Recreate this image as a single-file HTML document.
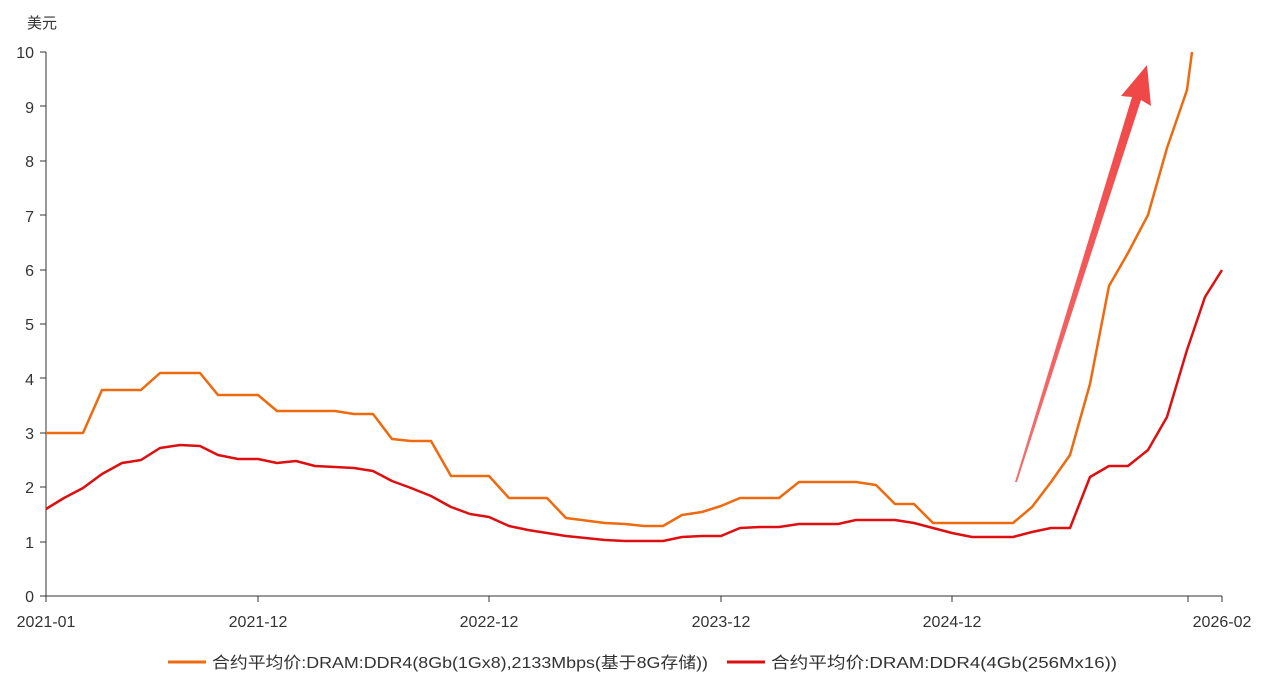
<!DOCTYPE html>
<html><head><meta charset="utf-8"><style>
body{margin:0;background:#fff;}
svg text{font-family:"Liberation Sans","Noto Sans CJK SC",sans-serif;}
</style></head><body>
<svg width="1269" height="676" viewBox="0 0 1269 676" xmlns="http://www.w3.org/2000/svg">
<defs><linearGradient id="g" x1="1015" y1="482" x2="1148" y2="65" gradientUnits="userSpaceOnUse">
<stop offset="0" stop-color="#f47070"/><stop offset="1" stop-color="#f04545"/></linearGradient></defs>
<text x="27" y="28" font-size="15" fill="#333">美元</text>
<g font-size="16" fill="#333" text-anchor="end">
<text x="34" y="58">10</text><text x="34" y="113">9</text><text x="34" y="167">8</text><text x="34" y="222">7</text><text x="34" y="276">6</text><text x="34" y="330">5</text><text x="34" y="385">4</text><text x="34" y="439">3</text><text x="34" y="493">2</text><text x="34" y="548">1</text><text x="34" y="602">0</text>
</g>
<g stroke="#333" stroke-width="1">
<line x1="46" y1="52" x2="46" y2="596"/><line x1="46" y1="596" x2="1222" y2="596"/>
<line x1="40" y1="52" x2="46" y2="52"/><line x1="40" y1="106" x2="46" y2="106"/><line x1="40" y1="161" x2="46" y2="161"/><line x1="40" y1="215" x2="46" y2="215"/><line x1="40" y1="270" x2="46" y2="270"/><line x1="40" y1="324" x2="46" y2="324"/><line x1="40" y1="378" x2="46" y2="378"/><line x1="40" y1="433" x2="46" y2="433"/><line x1="40" y1="487" x2="46" y2="487"/><line x1="40" y1="542" x2="46" y2="542"/><line x1="40" y1="596" x2="46" y2="596"/>
<line x1="46" y1="596" x2="46" y2="602"/><line x1="258" y1="596" x2="258" y2="602"/><line x1="489" y1="596" x2="489" y2="602"/><line x1="721" y1="596" x2="721" y2="602"/><line x1="952" y1="596" x2="952" y2="602"/><line x1="1188" y1="596" x2="1188" y2="602"/><line x1="1222" y1="596" x2="1222" y2="602"/>
</g>
<g font-size="16" fill="#333" text-anchor="middle">
<text x="46" y="627">2021-01</text><text x="258" y="627">2021-12</text><text x="489" y="627">2022-12</text><text x="721" y="627">2023-12</text><text x="952" y="627">2024-12</text><text x="1222" y="627">2026-02</text>
</g>
<polyline fill="none" stroke="#ee6a0e" stroke-width="2.5" stroke-linejoin="round" points="46,433 83,433 102,390 141,390 160,373 200,373 218,395 258,395 277,411 335,411 354,414 373,414 392,439 411,441 431,441 451,476 489,476 509,498 547,498 566,518 605,523 625,524 644,526 663,526 682,515 702,512 721,506 740,498 779,498 799,482 856,482 876,485 895,504 914,504 933,523 1013,523 1032,507 1051,482 1070,455 1090,384 1109,286 1128,253 1148,215 1167,148 1187,90 1192,52"/>
<polyline fill="none" stroke="#dd0f10" stroke-width="2.5" stroke-linejoin="round" points="46,509 64,498 83,488 102,474 122,463 141,460 160,448 180,445 200,446 218,455 238,459 258,459 277,463 296,461 315,466 335,467 354,468 373,471 392,481 411,488 431,496 451,507 470,514 489,517 509,526 528,530 547,533 566,536 605,540 625,541 663,541 682,537 702,536 721,536 740,528 760,527 779,527 799,524 838,524 856,520 895,520 914,523 933,528 952,533 972,537 1013,537 1032,532 1051,528 1070,528 1090,477 1109,466 1128,466 1148,450 1167,417 1187,350 1205,297 1222,270"/>
<polygon fill="url(#g)" points="1015,482 1132,97 1121,96 1147,65 1151,106 1141,100 1017,482"/>
<line x1="168" y1="662" x2="206" y2="662" stroke="#ee6a0e" stroke-width="3"/>
<text x="212" y="668" font-size="16" fill="#333" textLength="496" lengthAdjust="spacingAndGlyphs">合约平均价:DRAM:DDR4(8Gb(1Gx8),2133Mbps(基于8G存储))</text>
<line x1="727" y1="662" x2="765" y2="662" stroke="#dd0f10" stroke-width="3"/>
<text x="771" y="668" font-size="16" fill="#333" textLength="346" lengthAdjust="spacingAndGlyphs">合约平均价:DRAM:DDR4(4Gb(256Mx16))</text>
</svg>
</body></html>
